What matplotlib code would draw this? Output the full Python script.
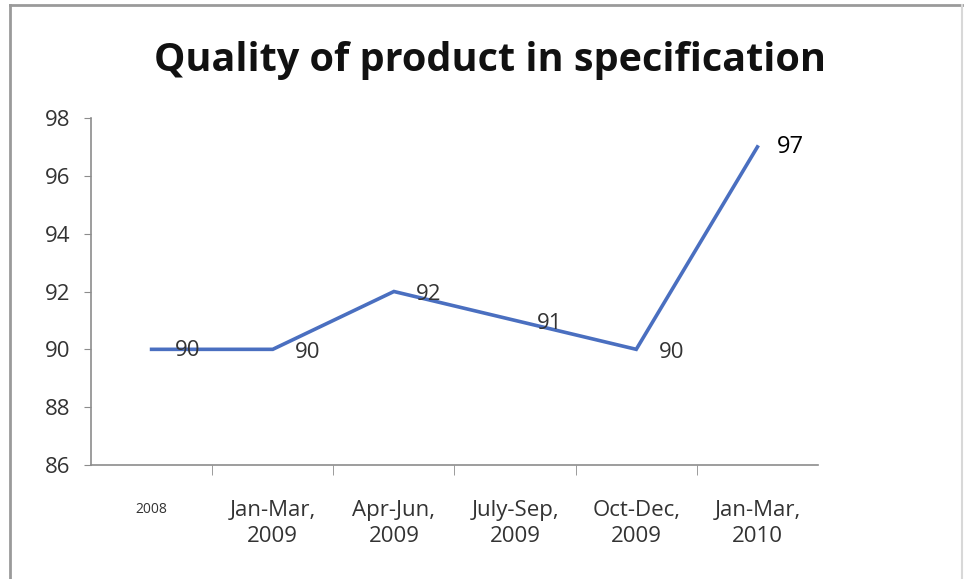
import matplotlib.pyplot as plt
from matplotlib.lines import Line2D

# Quarterly quality figures
periods = ["2008", "Jan-Mar,\n2009", "Apr-Jun,\n2009", "July-Sep,\n2009",
           "Oct-Dec,\n2009", "Jan-Mar,\n2010"]
quality = [90, 90, 92, 91, 90, 97]

plt.rcParams["font.family"] = ["Open Sans", "DejaVu Sans"]

fig = plt.figure(figsize=(9.65, 5.79), dpi=100)
W, H = 965, 579
ax = fig.add_axes([91 / W, 1 - 465 / H, (818 - 91) / W, (465 - 118) / H])

x = list(range(len(quality)))
ax.plot(x, quality, color="#4a6fc0", linewidth=2.6, solid_joinstyle="miter")

# value labels next to each point
for xi, yi in zip(x, quality):
    if xi == 0:
        ax.annotate(str(yi), (xi, yi), xytext=(26, -1), textcoords="offset points",
                    ha="center", va="center", fontsize=16, color="#333333")
    elif xi == len(x) - 1:
        ax.annotate(str(yi), (xi, yi), xytext=(14, 0), textcoords="offset points",
                    ha="left", va="center", fontsize=17, color="#000000")
    else:
        ax.annotate(str(yi), (xi, yi), xytext=(16, -2), textcoords="offset points",
                    ha="left", va="center", fontsize=16, color="#333333")

ax.set_xlim(-0.5, 5.5)
ax.set_ylim(86, 98)
ax.set_yticks(range(86, 99, 2))
ax.set_xticks(x)
ax.set_xticklabels(periods, linespacing=1.35)
ax.set_xticks([i + 0.5 for i in range(5)], minor=True)

for side in ("top", "right"):
    ax.spines[side].set_visible(False)
for side in ("left", "bottom"):
    ax.spines[side].set_color("#8c8c8c")
    ax.spines[side].set_linewidth(1.2)

ax.tick_params(axis="y", labelsize=16, length=5, color="#8c8c8c",
               labelcolor="#333333", pad=10)
ax.tick_params(axis="x", which="major", length=0, labelsize=16,
               labelcolor="#333333", pad=25)
ax.tick_params(axis="x", which="minor", length=7, color="#8c8c8c")
ax.get_xticklabels()[0].set_fontsize(10)
ax.get_xticklabels()[0].set_y(-0.008)

fig.text(490 / W, 1 - 60 / H, "Quality of product in specification",
         ha="center", va="center", fontsize=28.5, fontweight="bold",
         color="#111111")

# outer chart border (left, top, right)
border = dict(transform=fig.transFigure, color="#9a9a9a", linewidth=2)
fig.lines.append(Line2D([10 / W, 10 / W], [0, 1 - 5 / H], **border))
fig.lines.append(Line2D([10 / W, 962 / W], [1 - 5 / H, 1 - 5 / H], **border))
fig.lines.append(Line2D([962 / W, 962 / W], [0, 1 - 5 / H],
                        transform=fig.transFigure, color="#d8d8d8", linewidth=1.5))

fig.savefig("out.png", dpi=100)
